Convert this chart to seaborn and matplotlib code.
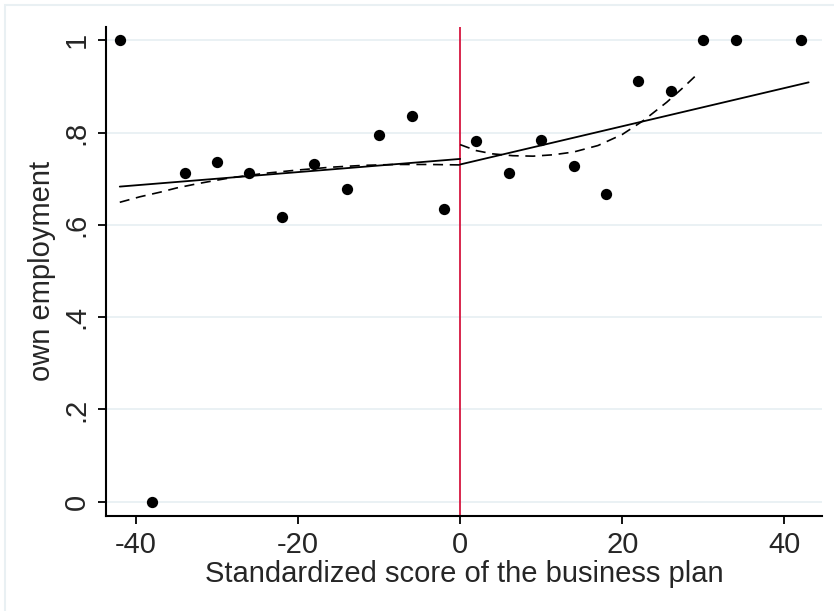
import matplotlib
matplotlib.use("Agg")
import matplotlib.pyplot as plt
import matplotlib.patches as mpatches
import numpy as np
import pandas as pd
import seaborn as sns

# Binned means of own employment by standardized business-plan score
bin_x = [-42, -38, -34, -30, -26, -22, -18, -14, -10, -6, -2,
         2, 6, 10, 14, 18, 22, 26, 30, 34, 42]
bin_y = [1.0, 0.0, 0.713, 0.736, 0.713, 0.618, 0.732, 0.678, 0.794, 0.837, 0.635,
         0.781, 0.713, 0.783, 0.727, 0.666, 0.913, 0.890, 1.0, 1.0, 1.0]

# Linear fits on each side of the threshold
lin_left_x = [-42, 0]
lin_left_y = [0.683, 0.743]
lin_right_x = [0, 43]
lin_right_y = [0.731, 0.909]

# Quadratic fits on each side of the threshold
quad_left_x = [-42, -39.5, -37, -35, -32.5, -30, -28, -24, -20, -16, -12, -8, -4, 0]
quad_left_y = [0.649, 0.661, 0.671, 0.680, 0.689, 0.697, 0.703, 0.712, 0.719, 0.725,
               0.729, 0.731, 0.731, 0.730]
quad_right_x = [0, 2, 4, 6.5, 9, 11.5, 14, 17, 20, 22.6, 25.5, 27.6, 29.4]
quad_right_y = [0.774, 0.761, 0.754, 0.750, 0.749, 0.752, 0.758, 0.772, 0.796,
                0.826, 0.866, 0.899, 0.929]

y_ticks = [0, 0.2, 0.4, 0.6, 0.8, 1.0]
y_tick_labels = ["0", ".2", ".4", ".6", ".8", "1"]
x_ticks = [-40, -20, 0, 20, 40]
x_tick_labels = ["-40", "-20", "0", "20", "40"]

FS = 21

sns.set_style("white")
plt.rcParams["font.family"] = ["Liberation Sans", "DejaVu Sans"]

fig = plt.figure(figsize=(8.34, 6.11), dpi=100)
ax = fig.add_axes([106 / 834, 1 - 515.5 / 611, (822 - 106) / 834, (515.5 - 27) / 611])

# faint outer graph-region frame
fig.patches.append(mpatches.Rectangle((5 / 834, -0.1), 2.0, 1 - 5 / 611 + 0.1,
                                      transform=fig.transFigure, fill=False,
                                      edgecolor="#e9f0f3", linewidth=1.5, zorder=0))

ax.set_xlim(-43.7, 44.65)
ax.set_ylim(-0.030, 1.029)

for yv in y_ticks:
    ax.axhline(yv, color="#eaf1f4", linewidth=1.4, zorder=0)

ax.axvline(0, color="#d5163f", linewidth=1.3, zorder=1)

scat = pd.DataFrame({"x": bin_x, "y": bin_y})
sns.scatterplot(data=scat, x="x", y="y", ax=ax, color="black", s=66,
                edgecolor="black", linewidth=0, zorder=4)

sns.lineplot(x=lin_left_x, y=lin_left_y, ax=ax, color="black", linewidth=1.3,
             zorder=3, sort=False)
sns.lineplot(x=lin_right_x, y=lin_right_y, ax=ax, color="black", linewidth=1.3,
             zorder=3, sort=False)
sns.lineplot(x=quad_left_x, y=quad_left_y, ax=ax, color="black", linewidth=1.2,
             linestyle=(0, (6, 4)), zorder=3, sort=False)
sns.lineplot(x=quad_right_x, y=quad_right_y, ax=ax, color="black", linewidth=1.2,
             linestyle=(0, (6, 4)), zorder=3, sort=False)

ax.set_yticks(y_ticks)
ax.set_yticklabels(y_tick_labels, rotation=90, va="center", fontsize=FS)
ax.set_xticks(x_ticks)
ax.set_xticklabels(x_tick_labels, fontsize=FS)
ax.tick_params(axis="both", direction="out", length=6, width=1.3, color="black",
               pad=5, bottom=True, left=True)

ax.set_xlabel("Standardized score of the business plan", fontsize=FS, labelpad=1)
ax.set_ylabel("own employment", fontsize=FS, labelpad=5)

for side in ["top", "right"]:
    ax.spines[side].set_visible(False)
for side in ["left", "bottom"]:
    ax.spines[side].set_color("black")
    ax.spines[side].set_linewidth(1.5)

fig.savefig("out.png", dpi=100)
